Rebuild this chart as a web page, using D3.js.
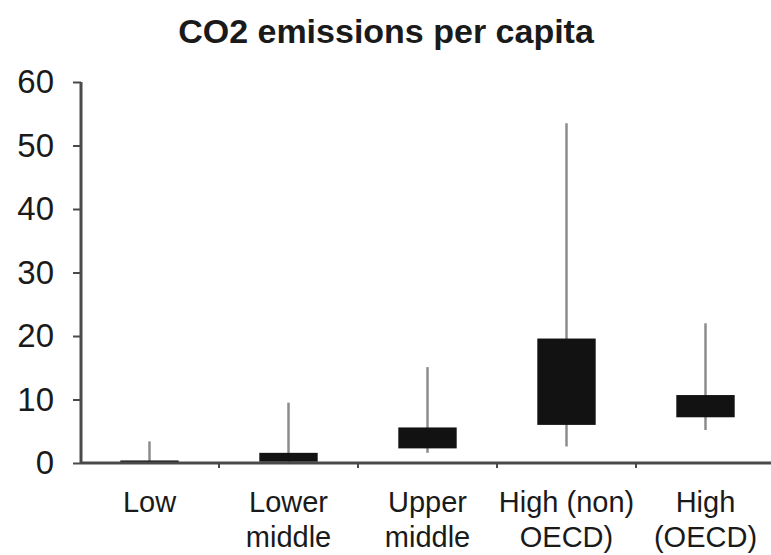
<!DOCTYPE html>
<html>
<head>
<meta charset="utf-8">
<script src="https://cdn.jsdelivr.net/npm/d3@7"></script>
<style>
  html, body { margin: 0; padding: 0; background: #fff; }
  svg { display: block; }
  text { font-family: "Liberation Sans", Arial, sans-serif; fill: #1a1a1a; }
</style>
</head>
<body>
<svg id="chart" width="771" height="555"></svg>
<script>
// ---- data ----
const categories = ["Low", "Lower middle", "Upper middle", "High (non) OECD)", "High (OECD)"];
const categoryLabelLines = [["Low"], ["Lower", "middle"], ["Upper", "middle"], ["High (non)", "OECD)"], ["High", "(OECD)"]];
const whiskerLow  = [0.0, 0.1, 1.6, 2.6, 5.2];
const boxLow      = [0.0, 0.2, 2.3, 6.0, 7.2];
const boxHigh     = [0.4, 1.6, 5.6, 19.6, 10.7];
const whiskerHigh = [3.4, 9.5, 15.1, 53.5, 22.0];
const yTicks = [0, 10, 20, 30, 40, 50, 60];
const title = "CO2 emissions per capita";

// ---- layout ----
const svg = d3.select("#chart");

const x = d3.scaleBand().domain(categories).range([80, 775]).paddingInner(0).paddingOuter(0);
const y = d3.scaleLinear().domain([0, 60]).range([463, 82]);

const rows = categories.map((c, i) => ({
  cat: c, lines: categoryLabelLines[i],
  wl: whiskerLow[i], q1: boxLow[i], q3: boxHigh[i], wh: whiskerHigh[i]
}));

// title
svg.append("text")
  .attr("x", 386).attr("y", 43)
  .attr("text-anchor", "middle")
  .style("font-size", "34px").style("font-weight", "bold")
  .text(title);

// whiskers
const boxW = x.bandwidth() * 0.42;
svg.append("g").selectAll("line").data(rows).join("line")
  .attr("x1", d => x(d.cat) + x.bandwidth() / 2)
  .attr("x2", d => x(d.cat) + x.bandwidth() / 2)
  .attr("y1", d => y(d.wl)).attr("y2", d => y(d.wh))
  .attr("stroke", "#8c8c8c").attr("stroke-width", 2.5);

// boxes
svg.append("g").selectAll("rect").data(rows).join("rect")
  .attr("x", d => x(d.cat) + x.bandwidth() / 2 - boxW / 2)
  .attr("width", boxW)
  .attr("y", d => y(d.q3))
  .attr("height", d => Math.max(2.5, y(d.q1) - y(d.q3)))
  .attr("fill", "#121212");

// y axis
const yAxis = svg.append("g").attr("transform", "translate(81,0)")
  .call(d3.axisLeft(y).tickValues(yTicks).tickSize(8).tickPadding(19).tickFormat(d3.format("d")));
yAxis.select(".domain").attr("stroke", "#4a4a4a").attr("stroke-width", 3).attr("d", `M0,${y(60)}V${y(0)}`);
yAxis.selectAll(".tick line").attr("stroke", "#4a4a4a").attr("stroke-width", 2);
yAxis.selectAll(".tick text")
  .style("font-size", "33px").style("font-family", "Liberation Sans, Arial, sans-serif")
  .attr("fill", "#1a1a1a");

// x axis
const xAxis = svg.append("g").attr("transform", `translate(0,${y(0)})`)
  .call(d3.axisBottom(x).tickSize(0).tickFormat(""));
xAxis.select(".domain").attr("stroke", "#4a4a4a").attr("stroke-width", 3).attr("d", `M81,0H775`);
xAxis.selectAll(".tick").remove();
// category boundary ticks
xAxis.append("g").selectAll("line").data(categories.slice(1)).join("line")
  .attr("x1", d => x(d)).attr("x2", d => x(d))
  .attr("y1", 0).attr("y2", 5)
  .attr("stroke", "#4a4a4a").attr("stroke-width", 2);

// category labels
const lbl = svg.append("g").selectAll("text").data(rows).join("text")
  .attr("x", d => x(d.cat) + x.bandwidth() / 2)
  .attr("y", 512)
  .attr("text-anchor", "middle")
  .style("font-size", "29px");
lbl.selectAll("tspan").data(d => d.lines.map(l => ({ l, cx: x(d.cat) + x.bandwidth() / 2 }))).join("tspan")
  .attr("x", t => t.cx)
  .attr("dy", (t, i) => i === 0 ? 0 : 35)
  .text(t => t.l);
</script>
</body>
</html>
